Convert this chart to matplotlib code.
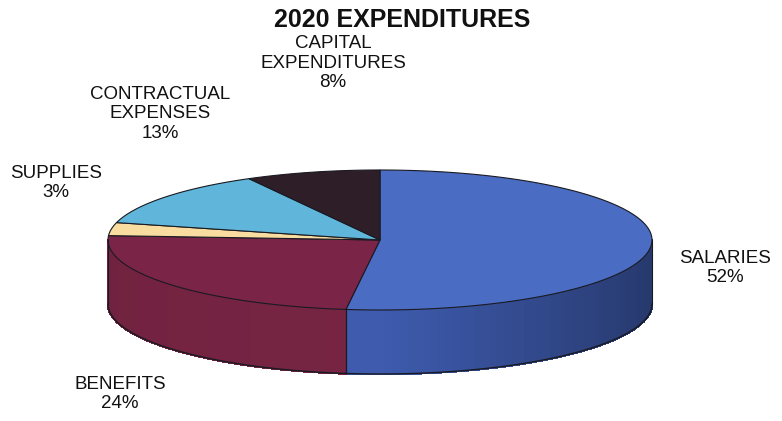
import numpy as np
import matplotlib
matplotlib.use('Agg')
import matplotlib.pyplot as plt
from matplotlib.patches import Polygon
from matplotlib.colors import to_rgb

plt.rcParams['font.family'] = ['Liberation Sans', 'DejaVu Sans']

# ----------------------------------------------------------------------
# data
# ----------------------------------------------------------------------
labels = ['SALARIES', 'BENEFITS', 'SUPPLIES', 'CONTRACTUAL\nEXPENSES', 'CAPITAL\nEXPENDITURES']
shares = [52, 24, 3, 13, 8]
top_colors = ['#4a6cc2', '#7a2448', '#f8dca0', '#5fb6da', '#2e1e28']
side_colors = ['#3b57a6', '#70223f', '#e0c080', '#4a9cc0', '#241820']

# label positions (pixels) and alignment
label_pos = [(725, 268), (120, 394), (10, 183), (160, 114), (333, 63)]
label_ha = ['center', 'center', 'left', 'center', 'center']

# pie geometry in pixel space
cx, cy = 380, 240
a, b = 272, 70
depth = 64


def pt(t, dy=0.0):
    return cx + a * np.cos(t), cy - b * np.sin(t) + dy


def shade(c, f):
    r, g, bb = to_rgb(c)
    return (r * f, g * f, bb * f)


fig = plt.figure(figsize=(7.82, 4.21), dpi=100)
ax = fig.add_axes([0, 0, 1, 1])
ax.set_xlim(0, 782)
ax.set_ylim(421, 0)
ax.axis('off')

# slice angles, clockwise from the top
fracs = np.array(shares) / sum(shares)
ends = np.pi / 2 - 2 * np.pi * np.cumsum(fracs)
starts = np.concatenate([[np.pi / 2], ends[:-1]])

# side walls (front half only: angle between pi and 2*pi)
for s, e, col in zip(starts, ends, side_colors):
    lo, hi = e, s
    for k in (-1, 0, 1):
        l2, h2 = lo + 2 * np.pi * k, hi + 2 * np.pi * k
        l3, h3 = max(l2, np.pi), min(h2, 2 * np.pi)
        if h3 <= l3:
            continue
        ts = np.linspace(l3, h3, 60)
        # shaded strips: darker toward the right edge
        for t0, t1 in zip(ts[:-1], ts[1:]):
            tm = 0.5 * (t0 + t1)
            f = 1.0 - 0.35 * max(0.0, np.cos(tm)) + 0.05 * np.sin(tm + np.pi)
            xs0, ys0 = pt(t0)
            xs1, ys1 = pt(t1)
            poly = [(xs0, ys0), (xs1, ys1), (xs1, ys1 + depth), (xs0, ys0 + depth)]
            ax.add_patch(Polygon(poly, closed=True, facecolor=shade(col, f),
                                 edgecolor=shade(col, f), lw=1.2,
                                 antialiased=False))
        xa, ya = pt(ts)
        ax.plot(xa, ya + depth, color='#1a1a22', lw=1.0)
        for t in (l3, h3):
            xv, yv = pt(t)
            ax.plot([xv, xv], [yv, yv + depth], color='#1a1a22', lw=0.8)

# top faces
for s, e, col in zip(starts, ends, top_colors):
    ts = np.linspace(s, e, 120)
    xs, ys = pt(ts)
    poly = [(cx, cy)] + list(zip(xs, ys))
    ax.add_patch(Polygon(poly, closed=True, facecolor=col,
                         edgecolor='#1a1a22', lw=0.8))

# labels
for lab, sh, (x, y), ha in zip(labels, shares, label_pos, label_ha):
    ax.text(x, y, f'{lab}\n{sh}%', ha=ha, va='center', fontsize=13.5,
            color='#111111', multialignment='center', linespacing=1.2)

ax.text(402, 20, '2020 EXPENDITURES', ha='center', va='center',
        fontsize=18, fontweight='bold', color='#111111')

fig.savefig('out.png', dpi=100)
